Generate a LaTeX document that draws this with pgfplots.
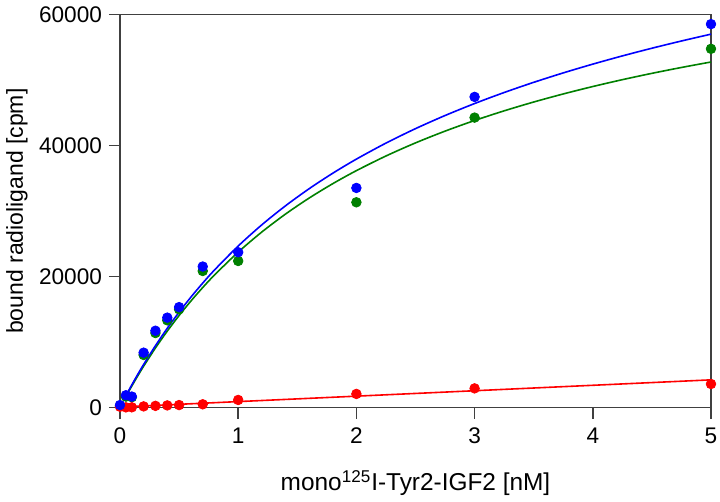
\documentclass[border=0pt]{standalone}
\usepackage{fontspec}
\setmainfont{Liberation Sans}
\usepackage{pgfplots}
\pgfplotsset{compat=1.18}
\definecolor{axgray}{RGB}{64,64,64}
\definecolor{cblue}{RGB}{0,0,255}
\definecolor{cgreen}{RGB}{0,128,0}
\definecolor{cred}{RGB}{255,0,0}
\begin{document}
\begin{tikzpicture}
\useasboundingbox (-60pt,-47.15pt) rectangle (300pt,203.85pt);
\begin{axis}[
  at={(0,0)}, anchor=south west,
  scale only axis,
  width=295.5pt, height=196.5pt,
  xmin=0, xmax=5, ymin=0, ymax=60000,
  xtick={0,1,2,3,4,5},
  ytick={0,20000,40000,60000},
  scaled y ticks=false,
  /pgf/number format/1000 sep={},
  /pgf/number format/assume math mode=true,
  tick align=outside,
  xtick pos=bottom, ytick pos=left,
  major tick length=5.5pt,
  axis line style={axgray, line width=0.8pt},
  every tick/.style={axgray, line width=0.8pt},
  tick label style={font=\fontsize{11.3}{13}\selectfont, black},
  xticklabel style={yshift=-1pt},
  ylabel style={font=\fontsize{11.5}{13}\selectfont},
  xlabel style={font=\fontsize{12.2}{14}\selectfont},
  xlabel={mono\textsuperscript{125}I-Tyr2-IGF2 [nM]},
  ylabel={bound radioligand [cpm]},
  xlabel style={at={(axis description cs:0.5,-0.1916)}, anchor=center},
  ylabel style={at={(axis description cs:-0.1743,0.5)}, anchor=center},
  clip=false,
]
% fitted curves
\addplot[cgreen, line width=0.8pt, smooth] coordinates {
(0.04,1357) (0.07,2344) (0.1,3304) (0.15,4851) (0.2,6333) (0.3,9120) (0.4,11692) (0.5,14074)
(0.6,16286) (0.7,18345) (0.8,20267) (1.0,23750) (1.2,26824) (1.4,29556) (1.6,32000)
(1.8,34200) (2.0,36190) (2.25,38427) (2.5,40426) (2.75,42222) (3.0,43846) (3.25,45321)
(3.5,46667) (3.75,47899) (4.0,49032) (4.25,50078) (4.5,51045) (4.75,51942) (5.0,52778)};
\addplot[cred, line width=0.8pt] coordinates {(0,100) (5,4250)};
\addplot[cblue, line width=0.8pt, smooth] coordinates {
(0.04,1490) (0.07,2502) (0.1,3487) (0.15,5076) (0.2,6599) (0.3,9469) (0.4,12124) (0.5,14589)
(0.6,16884) (0.7,19026) (0.8,21031) (1.0,24680) (1.2,27920) (1.4,30818) (1.6,33428)
(1.8,35794) (2.0,37950) (2.25,40395) (2.5,42601) (2.75,44605) (3.0,46436) (3.25,48119)
(3.5,49672) (3.75,51112) (4.0,52452) (4.25,53706) (4.5,54880) (4.75,55985) (5.0,57028)};
% data points
\addplot[only marks, mark=*, mark size=2.4pt, cgreen, mark options={draw=cgreen, fill=cgreen}] coordinates {
(0,300) (0.05,1700) (0.1,1600) (0.2,8050) (0.3,11400) (0.4,13340) (0.5,15020) (0.7,20870)
(1,22400) (2,31360) (3,44290) (5,54790)};
\addplot[only marks, mark=*, mark size=2.4pt, cred, mark options={draw=cred, fill=cred}] coordinates {
(0,150) (0.05,50) (0.1,60) (0.2,200) (0.3,280) (0.4,350) (0.5,400) (0.7,520)
(1,1180) (2,2100) (3,2950) (5,3620)};
\addplot[only marks, mark=*, mark size=2.4pt, cblue, mark options={draw=cblue, fill=cblue}] coordinates {
(0,400) (0.05,1900) (0.1,1700) (0.2,8400) (0.3,11750) (0.4,13750) (0.5,15350) (0.7,21550)
(1,23730) (2,33550) (3,47450) (5,58560)};
\end{axis}
\end{tikzpicture}
\end{document}
